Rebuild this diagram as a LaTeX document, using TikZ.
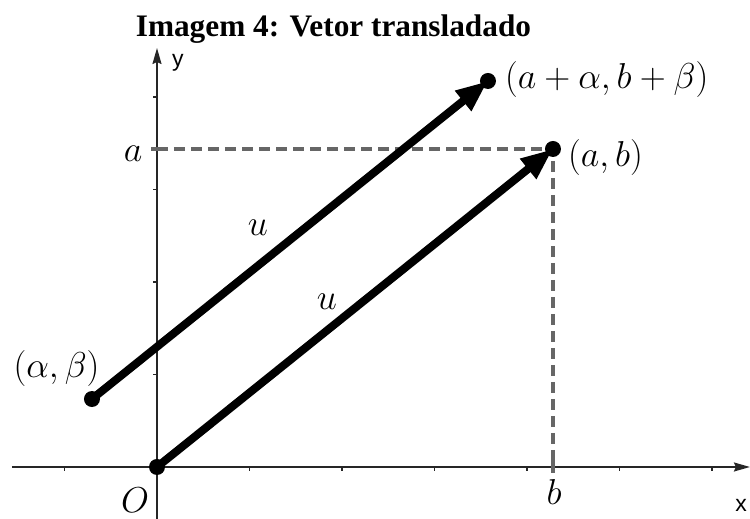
\documentclass[tikz,border=0pt]{standalone}
\usepackage{fix-cm}
\usepackage{fontspec}
\newfontfamily\titlefont{Liberation Serif}
\newfontfamily\axisfont{Liberation Sans}
\usetikzlibrary{arrows.meta}

\begin{document}
\begin{tikzpicture}[
    x=92.5pt, y=92.5pt,
    axis/.style={draw=black!85, line width=1.8pt, -{Stealth[length=16pt, width=9pt, inset=2pt]}},
    tickline/.style={draw=black!85, line width=1.2pt},
    guide/.style={draw=black!60, line width=3.2pt, dash pattern=on 11pt off 6pt},
    crossbar/.style={draw=black!60, line width=3.2pt},
    vec/.style={line width=8pt, -{Triangle[length=32pt, width=24pt]}},
    dot/.style={circle, fill=black, inner sep=0pt, minimum size=16pt},
    lbl/.style={inner sep=0pt, font=\fontsize{36}{40}\selectfont},
    axlbl/.style={inner sep=0pt, font=\axisfont\fontsize{23}{26}\selectfont}
]
\useasboundingbox (-1.6973,-0.5622) rectangle (6.4108,5.0486);

% --- Points ---
\coordinate (O) at (0,0);
\coordinate (ab) at (4.281,3.438);
\coordinate (albe) at (-0.703,0.735);
\coordinate (sum) at (3.578,4.173);
\coordinate (ya) at (0,3.438);
\coordinate (xb) at (4.281,0);

% --- Axes ---
\coordinate (xs) at (-1.568,0);
\coordinate (xe) at (6.41,0);
\coordinate (ys) at (0,-0.5622);
\coordinate (ye) at (0,4.53);
\draw[axis] (xs) -- (xe);
\draw[axis] (ys) -- (ye);
\foreach \t in {-1,1,2,3,4,5,6}
    \draw[tickline] (\t,0) -- ++(0,-4pt);
\foreach \t in {1,2,3,4}
    \draw[tickline] (0,\t) -- ++(-4pt,0);

% --- Guides to a and b ---
\draw[guide] (ya) -- (ab) -- (xb);
\draw[crossbar] (ya) +(-6pt,0) -- +(6pt,0);
\draw[crossbar] (xb) +(0,-6pt) -- +(0,6pt);

% --- Vectors ---
\draw[vec] (O) -- (ab);
\draw[vec] (albe) -- (sum);
\foreach \p in {O,ab,albe,sum}
    \node[dot] (dot-\p) at (\p) {};

% --- Labels ---
\node[anchor=base, font=\titlefont\bfseries\fontsize{31.3}{35}\selectfont] (title) at (1.908,4.659) {Imagem 4: Vetor transladado};
\node[axlbl] (ylbl) at (0.227,4.368) {y};
\node[axlbl] (xlbl) at (6.314,-0.411) {x};
\node[lbl] (albl) at (-0.259,3.384) {$a$};
\node[lbl] (blbl) at (4.292,-0.270) {$b$};
\node[lbl] (olbl) at (-0.238,-0.357) {$O$};
\node[lbl] (u1) at (1.092,2.584) {$u$};
\node[lbl] (u2) at (1.838,1.784) {$u$};
\node[lbl, anchor=west] (sumlbl) at (3.762,4.184) {$(a+\alpha,b+\beta)$};
\node[lbl, anchor=west] (ablbl) at (4.443,3.341) {$(a,b)$};
\node[lbl] (albelbl) at (-1.086,1.070) {$(\alpha,\beta)$};

\end{tikzpicture}
\end{document}
